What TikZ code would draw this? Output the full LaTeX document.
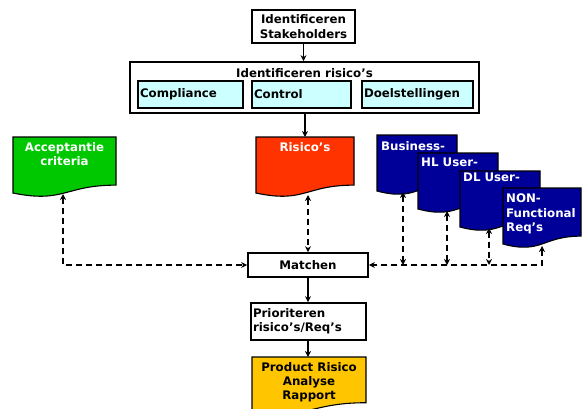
\documentclass[tikz,border=0pt]{standalone}
\usepackage{fontspec}
\setmainfont{DejaVu Sans}
\usetikzlibrary{arrows.meta}
\definecolor{cgreen}{RGB}{0,200,0}
\definecolor{cred}{RGB}{255,51,0}
\definecolor{cblue}{RGB}{0,0,153}
\definecolor{cyellow}{RGB}{255,198,0}
\definecolor{ccyan}{RGB}{204,255,255}
\newcommand{\docshape}[5]{%
\path[#1] (#2,#3) -- (#4,#3) -- (#4,{#3+0.802*#5}) .. controls ({(#2+#4)/2},{#3+0.802*#5}) and ({(#2+#4)/2},{#3+1.107*#5}) .. (#2,{#3+0.934*#5}) -- cycle;}
\begin{document}
\begin{tikzpicture}[x=1pt,y=-1pt,
 every node/.style={font=\bfseries\fontsize{11.8}{14.3}\selectfont},
 box/.style={draw=black,line width=1.7pt,fill=white,inner sep=2pt},
 sub/.style={draw=black,line width=1.4pt,fill=ccyan,inner sep=2pt,align=left},
 doc/.style={draw=black,line width=1.1pt},
 dtext/.style={inner sep=0pt,anchor=north},
 solidarrow/.style={line width=1.6pt,-{Stealth[length=6pt,width=6pt]}},
 dsh/.style={line width=1.7pt,dash pattern=on 6pt off 4pt,{Stealth[length=6pt,width=6pt]}-{Stealth[length=6pt,width=6pt]}}
]
\useasboundingbox (0,0) rectangle (585,408);
\fill[white] (0,0) rectangle (585,408);
\begin{scope}
\clip (0,0) rectangle (585,408);

% top box
\node[box,minimum width=103,minimum height=33,align=center] (stake) at (303.5,26.5) {Identificeren\\Stakeholders};

% big box
\node[box,minimum width=349,minimum height=51] (big) at (304.5,87.5) {};
\node[inner sep=0pt] (bigt) at (304.5,73) {Identificeren risico’s};
\node[sub,minimum width=105,minimum height=27,text width=101] (comp) at (190.5,94.5) {Compliance};
\node[sub,minimum width=99,minimum height=27,text width=95] (ctrl) at (301.5,94.5) {Control};
\node[sub,minimum width=111,minimum height=27,text width=107] (doel) at (417.5,94.5) {Doelstellingen};

% documents
\docshape{doc,fill=cgreen}{13}{137}{116}{60}
\node[dtext,white,align=center] (acc) at (64.5,142) {Acceptantie\\criteria};
\docshape{doc,fill=cred}{256}{137}{354}{60}
\node[dtext,white] (ris) at (305,142) {Risico’s};

\docshape{doc,fill=cblue}{377}{135}{457}{60}
\node[dtext,white,anchor=north west] (bus) at (381,141) {Business-};
\docshape{doc,fill=cblue}{418}{153}{498}{60}
\node[dtext,white,anchor=north west] (hl) at (421,158) {HL User-};
\docshape{doc,fill=cblue}{460}{171}{540}{60}
\node[dtext,white,anchor=north west] (dl) at (463,173) {DL User-};
\docshape{doc,fill=cblue}{503}{188}{581}{60}
\node[dtext,white,anchor=north west,align=left] (nf) at (506,194) {NON-\\Functional\\Req’s};

% lower boxes
\node[box,minimum width=120,minimum height=24] (match) at (308,265) {Matchen};
\node[box,minimum width=115,minimum height=37,text width=111,align=left] (prio) at (308.5,321.5) {Prioriteren\\risico’s/Req’s};
\docshape{doc,fill=cyellow}{252}{357}{366}{57}
\node[dtext,black,align=center] (prod) at (309,362) {Product Risico\\Analyse\\Rapport};

% coordinates at document bottoms
\coordinate (accB) at (63,194);
\coordinate (risB) at (308,195);
\coordinate (busB) at (403,192);
\coordinate (hlB) at (447,211);
\coordinate (dlB) at (489,228);
\coordinate (nfB) at (542,246);

% solid arrows
\draw[solidarrow] (stake.south) -- (big.north -| stake.south);
\draw[solidarrow] (big.south -| ris) -- (ris |- 0,137);
\draw[solidarrow] (match.south) -- (prio.north -| match.south);
\draw[solidarrow] (prio.south -| match.south) -- (match.south |- 0,357);

% dashed connectors
\draw[dsh] (accB) |- (match.west);
\draw[dsh] (risB) -- (risB |- match.north);
\draw[dsh] (nfB) |- (match.east);
\draw[dsh] (busB) -- (busB |- match.east);
\draw[dsh] (hlB) -- (hlB |- match.east);
\draw[dsh] (dlB) -- (dlB |- match.east);
\end{scope}
\end{tikzpicture}
\end{document}
